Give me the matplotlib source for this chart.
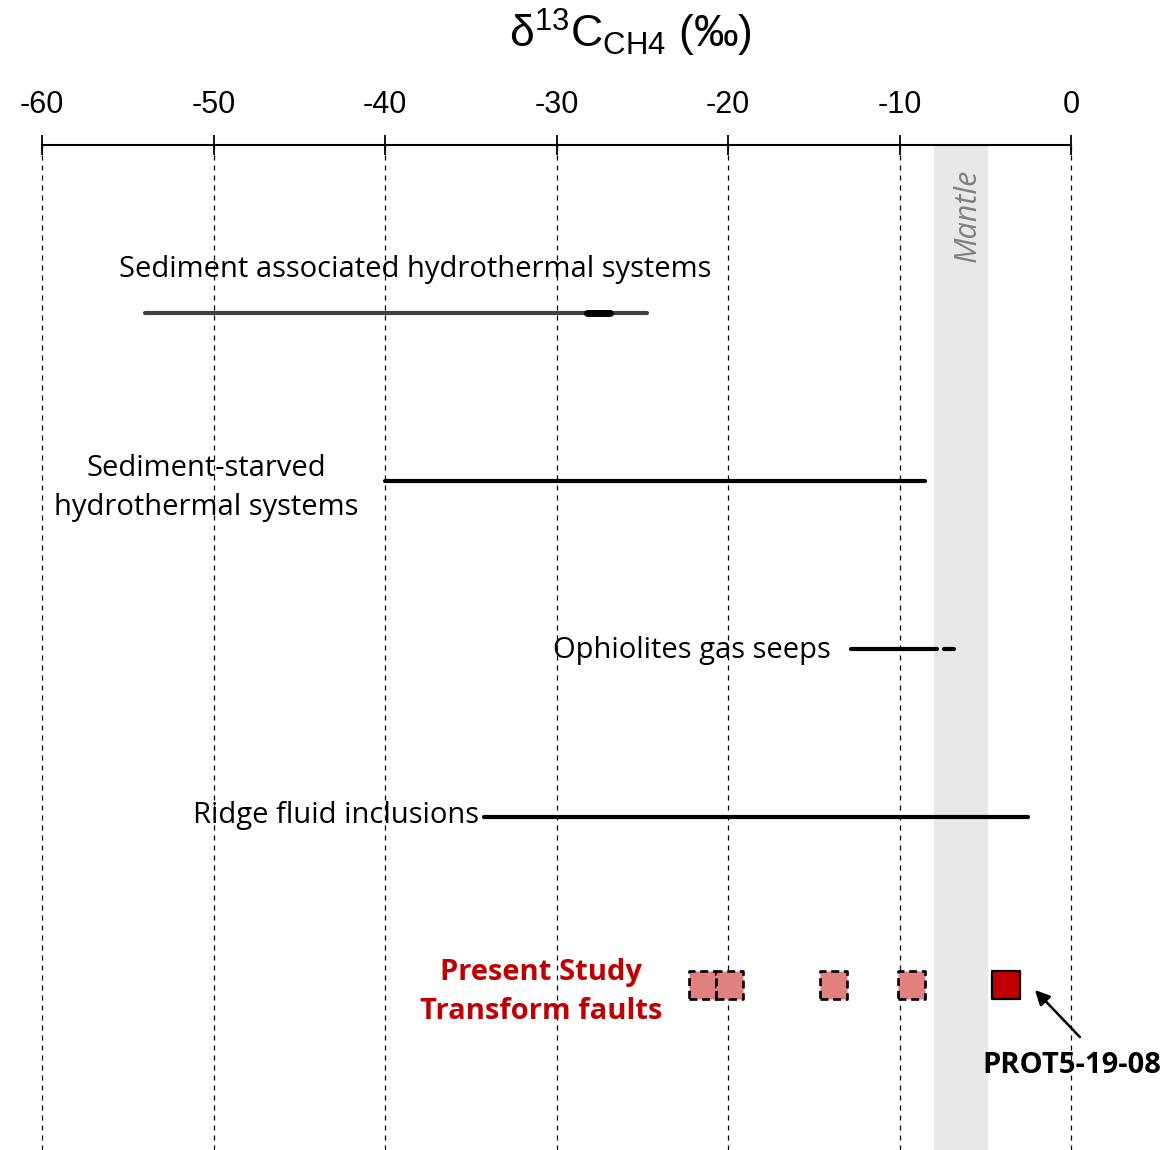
import matplotlib
matplotlib.use("Agg")
import matplotlib.pyplot as plt

# ---- data ----
ranges_labels = ["Sediment associated hydrothermal systems",
                 "Sediment-starved\nhydrothermal systems",
                 "Ophiolites gas seeps",
                 "Ridge fluid inclusions"]
ranges_main = [(-54.0, -24.7), (-40.0, -8.5), (-12.8, -7.8), (-34.2, -2.5)]
range_colors = ["#404040", "black", "black", "black"]
ranges_extra = [(-28.2, -26.9), None, (-7.4, -6.8), None]
rows = [1, 2, 3, 4]

study_values = [-21.5, -19.9, -13.85, -9.3]
prot_value = -3.8
study_row = 5
mantle_range = (-8, -4.85)
xticks = [-60, -50, -40, -30, -20, -10, 0]

W, H = 1173, 1150
fig = plt.figure(figsize=(W / 100, H / 100), dpi=100)
ax = fig.add_axes([42 / W, 0, (1071 - 42) / W, (H - 145) / H])
ax.set_xlim(-60, 0)
ax.set_ylim(5.982, 0)

for s in ["left", "right", "bottom"]:
    ax.spines[s].set_visible(False)
ax.spines["top"].set_linewidth(1.5)
ax.xaxis.set_ticks_position("top")
ax.xaxis.set_label_position("top")
ax.set_xticks(xticks)
ax.set_xticklabels([str(t) for t in xticks], fontfamily="Liberation Sans", fontsize=22)
ax.tick_params(axis="x", direction="inout", length=14, width=1.3, pad=11)
ax.set_yticks([])

for t in xticks:
    ax.axvline(t, color="black", lw=0.9, ls=(0, (4, 4)), zorder=1, clip_on=False)

ax.axvspan(*mantle_range, color="#E8E8E8", lw=0, zorder=0)
ax.text(-6.0, 0.42, "Mantle", rotation=90, style="italic",
        color="#808080", fontsize=22, fontfamily="Open Sans", ha="center", va="center")

lab_font = "Open Sans"
fs = 21
# ranges
for i, (lo, hi) in enumerate(ranges_main):
    ax.plot([lo, hi], [rows[i], rows[i]], color=range_colors[i], lw=3,
            solid_capstyle="round", zorder=3)
    if ranges_extra[i] is not None:
        a, b = ranges_extra[i]
        ax.plot([a, b], [rows[i], rows[i]], color="black", lw=5 if i == 0 else 3,
                solid_capstyle="round", zorder=4)

ax.text(-38.25, 0.744, ranges_labels[0], fontsize=fs, fontfamily=lab_font,
        ha="center", va="center")
ax.text(-50.4, 2.04, ranges_labels[1], fontsize=fs, fontfamily=lab_font,
        ha="center", va="center", linespacing=1.45)
ax.text(-14.0, 3.006, ranges_labels[2], fontsize=fs, fontfamily=lab_font,
        ha="right", va="center")
ax.text(-34.5, 3.99, ranges_labels[3], fontsize=fs, fontfamily=lab_font,
        ha="right", va="center")

# present study
ax.scatter(study_values, [study_row] * len(study_values), marker="s", s=380,
           facecolor="#E08080", edgecolor="black", linewidths=1.9,
           linestyle=(0, (3, 1.8)), zorder=5)
ax.scatter([prot_value], [study_row], marker="s", s=380, facecolor="#C00000",
           edgecolor="black", linewidths=1.6, zorder=5)
ax.text(-30.9, 5.04, "Present Study\nTransform faults", color="#C00000",
        fontweight="bold", fontsize=fs, fontfamily=lab_font, ha="center", va="center",
        linespacing=1.45)
ax.annotate("", xy=(-2.1, 5.03), xytext=(0.52, 5.31),
            arrowprops=dict(arrowstyle="-|>", color="black", lw=1.8, mutation_scale=22,
                            shrinkA=0, shrinkB=0),
            annotation_clip=False)
ax.text(0.06, 5.48, "PROT5-19-08", fontsize=fs, fontweight="bold", fontfamily=lab_font,
        ha="center", va="center", clip_on=False)

fig.text(630 / W, 1 - 33 / H, r"$\mathregular{\delta^{13}C_{CH4}}$ (‰)",
         fontsize=32, fontfamily="Liberation Sans", ha="center", va="center")

fig.savefig("out.png", dpi=100)
